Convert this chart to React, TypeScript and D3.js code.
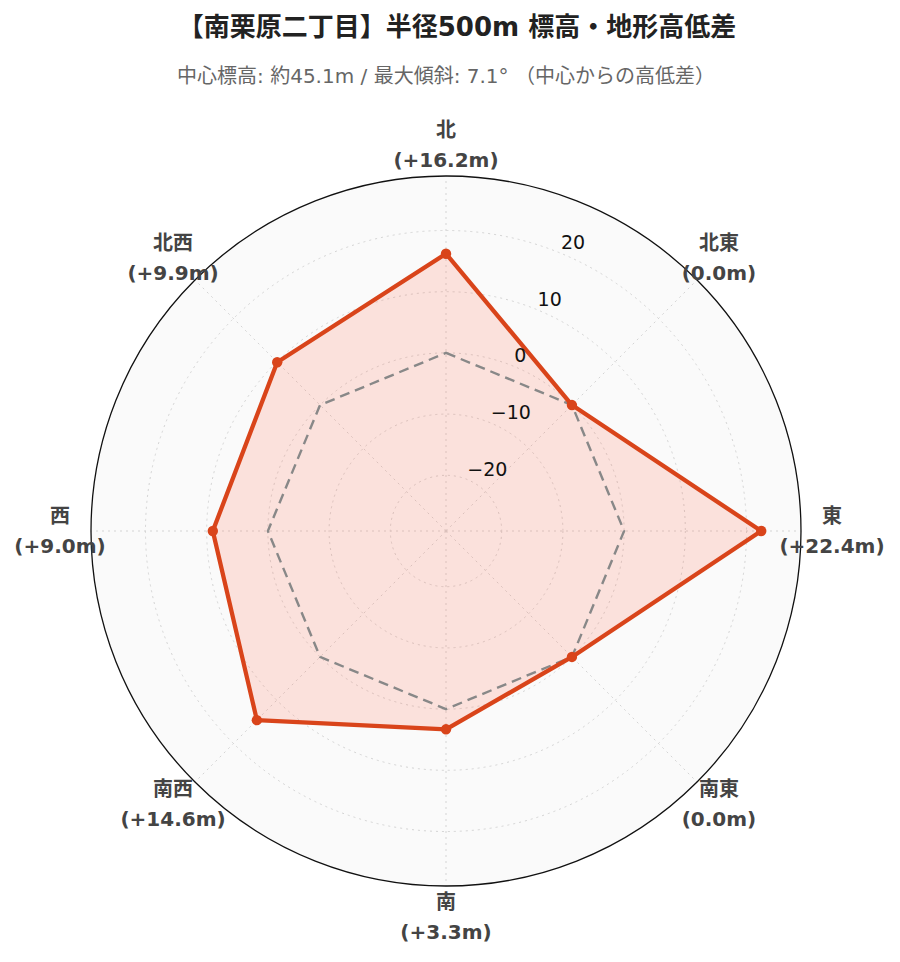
import React from "react";
import * as d3 from "d3";

const directions = ["北", "北東", "東", "南東", "南", "南西", "西", "北西"];
const values = [16.2, 0.0, 22.4, 0.0, 3.3, 14.6, 9.0, 9.9];
const baseline = [0, 0, 0, 0, 0, 0, 0, 0];
const radialTicks = [-20, -10, 0, 10, 20];
const titleText = "【南栗原二丁目】半径500m 標高・地形高低差";
const subtitleText = "中心標高: 約45.1m / 最大傾斜: 7.1° （中心からの高低差）";

const W = 900;
const H = 962;
const cx = 446;
const cy = 531;
const R = 355;
const FONT = "'DejaVu Sans', 'Noto Sans CJK JP', sans-serif";

export default function App() {
  const r = d3.scaleLinear().domain([-29.1, 28.9]).range([0, R]);
  const angle = (i: number) => (i / directions.length) * 2 * Math.PI;
  const pt = (i: number, v: number): [number, number] => {
    const a = angle(i);
    return [cx + r(v) * Math.sin(a), cy - r(v) * Math.cos(a)];
  };
  const radial = d3
    .lineRadial<number>()
    .angle((_, i) => angle(i))
    .radius((d) => r(d))
    .curve(d3.curveLinearClosed);

  const fmt = (v: number) => (v > 0 ? `(+${v.toFixed(1)}m)` : `(${v.toFixed(1)}m)`);
  const tickAngle = Math.PI / 8;
  const dataPath = radial(values) || "";

  return (
    <svg width={W} height={H} style={{ display: "block", position: "absolute", left: 0, top: 0 }} fontFamily={FONT}>
      <rect width={W} height={H} fill="#fff" />
      <text x={457} y={36} textAnchor="middle" fontSize={26} fontWeight="bold" fill="#222">
        {titleText}
      </text>
      <text x={446} y={83} textAnchor="middle" fontSize={20} fill="#666">
        {subtitleText}
      </text>
      <g>
        <circle cx={cx} cy={cy} r={R} fill="#fafafa" />
        {radialTicks.map((t) => (
          <circle key={t} cx={cx} cy={cy} r={r(t)} fill="none" stroke="#d4d4d4" strokeWidth={1} strokeDasharray="2,4" />
        ))}
        {directions.map((d, i) => {
          const a = angle(i);
          return (
            <line
              key={d}
              x1={cx}
              y1={cy}
              x2={cx + R * Math.sin(a)}
              y2={cy - R * Math.cos(a)}
              stroke="#d4d4d4"
              strokeWidth={1}
              strokeDasharray="2,4"
            />
          );
        })}
        <circle cx={cx} cy={cy} r={R} fill="none" stroke="#111" strokeWidth={1.3} />
        <path
          d={dataPath}
          transform={`translate(${cx},${cy})`}
          fill="rgba(255, 99, 71, 0.17)"
          stroke="none"
        />
        <path
          d={radial(baseline) || ""}
          transform={`translate(${cx},${cy})`}
          fill="none"
          stroke="#888"
          strokeWidth={2.4}
          strokeDasharray="10,6"
        />
        <path
          d={dataPath}
          transform={`translate(${cx},${cy})`}
          fill="none"
          stroke="#d9441a"
          strokeWidth={4.3}
          strokeLinejoin="round"
        />
        {values.map((v, i) => {
          const [x, y] = pt(i, v);
          return <circle key={i} cx={x} cy={y} r={5.2} fill="#d9441a" />;
        })}
        {radialTicks.map((t) => {
          const x = cx + r(t) * Math.sin(tickAngle);
          const y = cy - r(t) * Math.cos(tickAngle);
          return (
            <text key={t} x={x} y={y - 4} fontSize={19} fill="#111">
              {t < 0 ? `−${Math.abs(t)}` : `${t}`}
            </text>
          );
        })}
        {directions.map((d, i) => {
          const a = angle(i);
          const lx = cx + 386 * Math.sin(a);
          const ly = cy - 386 * Math.cos(a);
          return (
            <text key={d} textAnchor="middle" fontSize={20} fontWeight="bold" fill="#444">
              <tspan x={lx} y={ly - 8}>{d}</tspan>
              <tspan x={lx} y={ly + 22}>{fmt(values[i])}</tspan>
            </text>
          );
        })}
      </g>
    </svg>
  );
}
